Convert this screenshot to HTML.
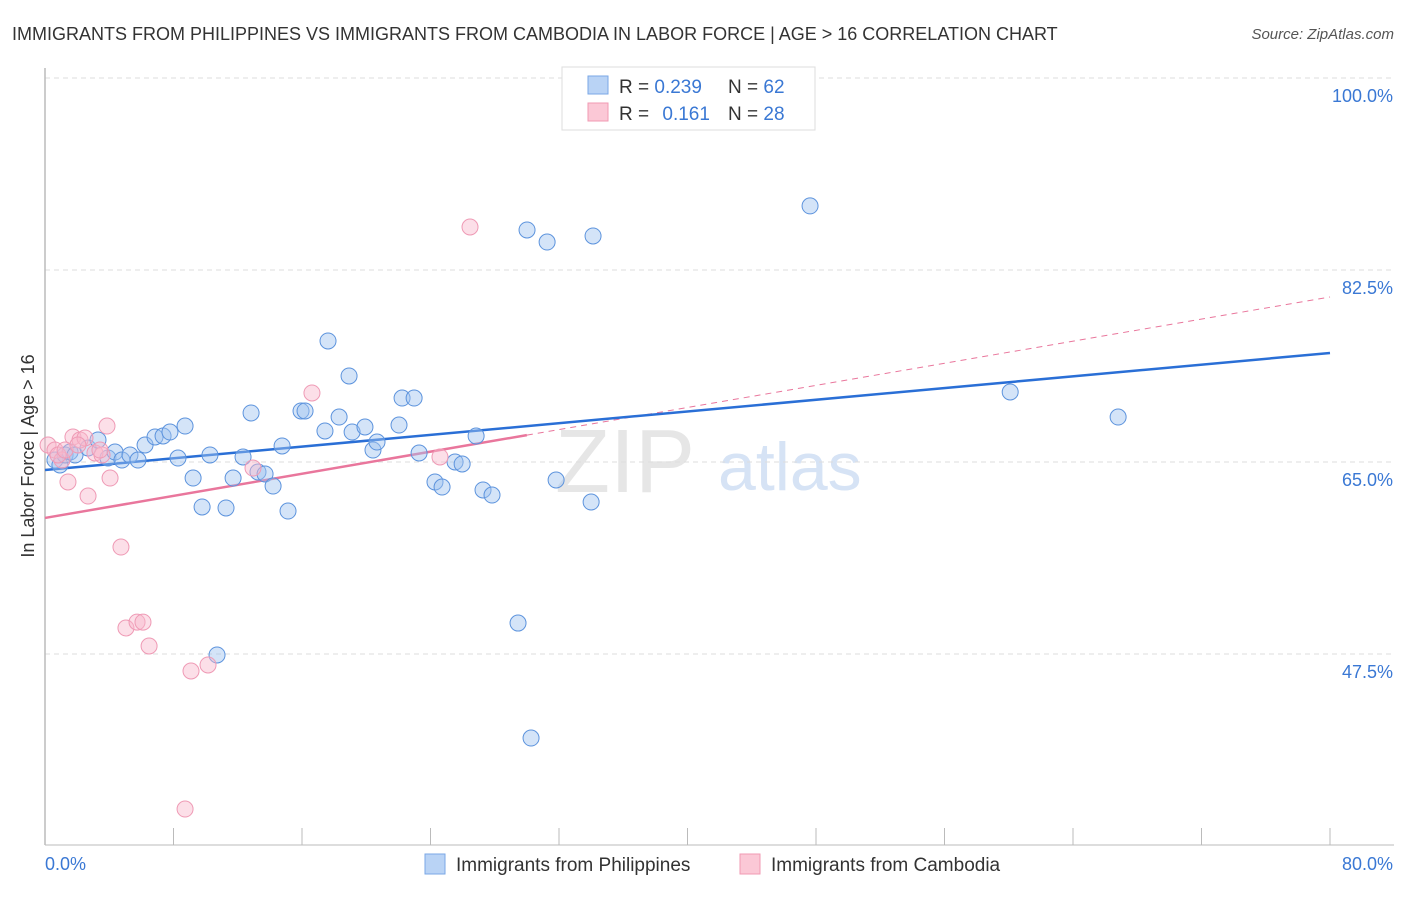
<!DOCTYPE html>
<html><head><meta charset="utf-8"><style>
body{margin:0;background:#fff;font-family:"Liberation Sans",sans-serif;}
svg text{font-family:"Liberation Sans",sans-serif;}
</style></head><body>
<svg id="chart" width="1406" height="892" xmlns="http://www.w3.org/2000/svg">
<text x="12" y="40" font-size="18" fill="#333">IMMIGRANTS FROM PHILIPPINES VS IMMIGRANTS FROM CAMBODIA IN LABOR FORCE | AGE &gt; 16 CORRELATION CHART</text>
<text x="1394" y="39" font-size="15" fill="#555" font-style="italic" text-anchor="end">Source: ZipAtlas.com</text>
<g>
<text x="555" y="492" font-size="90" fill="#e6e6e6" font-family="Liberation Serif">ZIP</text>
<text x="718" y="490" font-size="68" fill="#d6e3f5">atlas</text>
</g>
<g id="grid"></g>
<g id="axes"></g>
<g id="trends"></g>
<g id="points"></g>
<text transform="translate(34,456) rotate(-90)" font-size="18" fill="#333" text-anchor="middle">In Labor Force | Age &gt; 16</text>
<text x="45" y="870" font-size="18" fill="#3a78d4">0.0%</text>
<text x="1393" y="870" font-size="18" fill="#3a78d4" text-anchor="end">80.0%</text>
<g>
<rect x="562" y="67" width="253" height="63" fill="#fff" stroke="#ddd"/>
<rect x="588" y="76" width="20" height="18" fill="#b9d3f5" stroke="#7aa7e6"/>
<rect x="588" y="103" width="20" height="18" fill="#fbc8d6" stroke="#f09ab3"/>
<text x="619" y="93" font-size="19" fill="#333">R = <tspan fill="#3a78d4">0.239</tspan></text>
<text x="728" y="93" font-size="19" fill="#333">N = <tspan fill="#3a78d4">62</tspan></text>
<text x="619" y="120" font-size="19" fill="#333">R = <tspan fill="#3a78d4" dx="8">0.161</tspan></text>
<text x="728" y="120" font-size="19" fill="#333">N = <tspan fill="#3a78d4">28</tspan></text>
</g>
<g>
<rect x="425" y="854" width="20" height="20" fill="#b9d3f5" stroke="#7aa7e6"/>
<text x="456" y="871" font-size="19" fill="#333">Immigrants from Philippines</text>
<rect x="740" y="854" width="20" height="20" fill="#fbc8d6" stroke="#f09ab3"/>
<text x="771" y="871" font-size="19" fill="#333">Immigrants from Cambodia</text>
</g>
</svg>
<script>
const yTicks=[47.5,65,82.5,100];
const yTickLabels=["47.5%","65.0%","82.5%","100.0%"];
const xTicks=[0,8,16,24,32,40,48,56,64,72,80];
const phX=[0.62,0.93,1.25,1.56,1.87,2.68,3.30,3.92,4.36,4.79,5.29,5.79,6.23,6.85,7.35,7.78,8.28,8.72,9.22,9.78,10.27,11.27,11.71,12.33,12.83,13.26,13.70,14.20,14.76,15.13,15.94,16.19,17.43,17.62,18.31,18.93,19.12,19.92,20.42,20.67,22.04,22.23,22.98,23.29,24.28,24.72,25.53,25.97,26.84,27.27,27.83,29.45,30.01,30.26,31.26,31.82,34.00,34.12,47.63,60.09,66.81,10.71];
const phY=[65.18,64.73,65.64,65.91,65.64,66.28,67.01,65.36,65.91,65.18,65.64,65.18,66.55,67.28,67.37,67.73,65.36,68.28,63.54,60.90,65.64,60.81,63.54,65.46,69.47,64.09,63.91,62.81,66.46,60.53,69.65,69.65,67.83,76.03,69.10,72.84,67.73,68.19,66.09,66.82,68.37,70.83,70.83,65.82,63.18,62.72,65.00,64.82,67.37,62.45,61.99,50.32,86.15,39.84,85.05,63.36,61.35,85.60,88.34,71.38,69.10,47.41];
const caX=[0.19,0.62,1.06,1.43,1.74,2.18,2.49,2.68,3.11,3.55,3.86,4.05,4.73,5.04,5.73,6.10,6.48,8.72,9.09,10.15,12.95,16.62,24.59,26.46,0.81,1.25,2.05,3.42];
const caY=[66.55,66.09,65.18,63.18,67.28,67.01,67.19,61.90,65.82,65.64,68.28,63.54,57.25,49.87,50.41,50.41,48.23,33.37,45.95,46.50,64.45,71.29,65.46,86.42,65.64,66.09,66.55,66.09];
const phTrend=[64.27,74.94];   // value at x=0 and x=80
const caTrend=[59.9,80.04];    // value at x=0 and x=80
const caSolidEnd=30;
const NS="http://www.w3.org/2000/svg";
const X0=45,X1=1330;
function sx(p){return X0+(p/80)*(X1-X0);}
function sy(v){return 462-(v-65)*(192/17.5);}
function mk(tag,attrs,parent){const e=document.createElementNS(NS,tag);for(const k in attrs)e.setAttribute(k,attrs[k]);parent.appendChild(e);return e;}
const grid=document.getElementById('grid');
yTicks.forEach((t,i)=>{
  const l=mk('line',{x1:X0,x2:1394,y1:sy(t),y2:sy(t),stroke:'#ddd','stroke-dasharray':'5,4'},grid);
  
  
  const tx=mk('text',{x:1393,y:sy(t)+24,'font-size':18,fill:'#3a78d4','text-anchor':'end'},grid);
  tx.textContent=yTickLabels[i];
  
  
});
const axes=document.getElementById('axes');
const ya=mk('line',{x1:X0,x2:X0,y1:68,y2:845,stroke:'#bbb','stroke-width':1.5},axes);


const xa=mk('line',{x1:X0,x2:1394,y1:845,y2:845,stroke:'#bbb','stroke-width':1},axes);


xTicks.forEach(t=>{
  const l=mk('line',{x1:sx(t),x2:sx(t),y1:828,y2:845,stroke:'#bbb'},axes);
  
  
});
const tr=document.getElementById('trends');
const pd=mk('line',{x1:sx(caSolidEnd),y1:sy(caTrend[0]+(caTrend[1]-caTrend[0])*caSolidEnd/80),x2:sx(80),y2:sy(caTrend[1]),stroke:'#e9769c','stroke-width':1,'stroke-dasharray':'6,5'},tr);


const ps=mk('line',{x1:sx(0),y1:sy(caTrend[0]),x2:sx(caSolidEnd),y2:sy(caTrend[0]+(caTrend[1]-caTrend[0])*caSolidEnd/80),stroke:'#e9769c','stroke-width':2.5},tr);


const pb=mk('line',{x1:sx(0),y1:sy(phTrend[0]),x2:sx(80),y2:sy(phTrend[1]),stroke:'#2a6fd6','stroke-width':2.5},tr);


const pts=document.getElementById('points');
phX.forEach((x,i)=>{
  const c=mk('circle',{cx:sx(x),cy:sy(phY[i]),r:8,fill:'rgba(160,196,240,0.45)',stroke:'#5c93dd','stroke-width':1},pts);
  
  
});
caX.forEach((x,i)=>{
  const c=mk('circle',{cx:sx(x),cy:sy(caY[i]),r:8,fill:'rgba(248,184,204,0.45)',stroke:'#ef9ab5','stroke-width':1},pts);
  
  
});
</script>
</body></html>
